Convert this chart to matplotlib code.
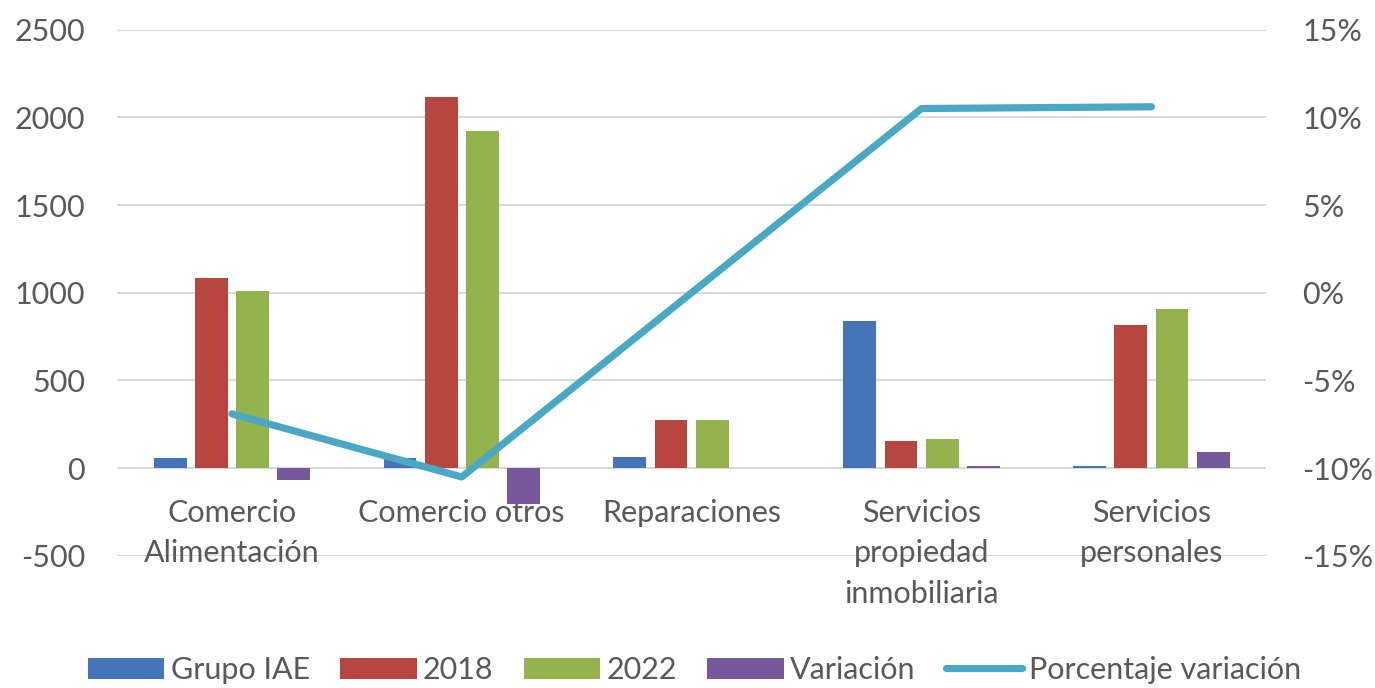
import numpy as np
import matplotlib.pyplot as plt
from matplotlib.patches import Patch
from matplotlib.lines import Line2D
from matplotlib.ticker import FuncFormatter

plt.rcParams['font.family'] = ['Lato', 'DejaVu Sans']
plt.rcParams['axes.unicode_minus'] = False

# ---- data ----
categories = ["Comercio\nAlimentación", "Comercio otros", "Reparaciones",
              "Servicios\npropiedad\ninmobiliaria", "Servicios\npersonales"]
grupo_iae = [59, 60, 63, 837, 15]
v2018 = [1085, 2117, 273, 154, 814]
v2022 = [1012, 1920, 273, 166, 906]
variacion = [-70, -204, 0, 12, 94]
pct_variacion = [-0.069, -0.105, 0.0, 0.105, 0.106]

series_names = ["Grupo IAE", "2018", "2022", "Variación"]
series_colors = ["#4674B8", "#B6463F", "#94B24D", "#76589B"]
line_color = "#4BA8C5"
text_color = "#595959"
grid_color = "#D9D9D9"
FS = 22

fig = plt.figure(figsize=(13.75, 6.88), dpi=100)
ax = fig.add_axes([0.085, 0.192, 0.836, 0.765])
ax2 = ax.twinx()

x = np.arange(len(categories))
width = 0.143
step = 0.179
all_series = [grupo_iae, v2018, v2022, variacion]
for i, (vals, col) in enumerate(zip(all_series, series_colors)):
    ax.bar(x + (i - 1.5) * step, vals, width, color=col, zorder=2)

ax.set_xlim(-0.5, len(categories) - 0.5)
ax.set_ylim(-500, 2500)
ax.set_yticks(np.arange(-500, 2501, 500))
ax.yaxis.grid(True, color=grid_color, linewidth=1.5, zorder=0)
ax.set_axisbelow(True)

# category labels sit next to the zero line, like Excel
ax.spines['bottom'].set_position(('data', 0))
for s in ax.spines.values():
    s.set_visible(False)
for s in ax2.spines.values():
    s.set_visible(False)
ax.set_xticks(x)
ax.set_xticklabels(categories, fontsize=FS, color=text_color, linespacing=1.55)
ax.tick_params(axis='x', length=0, pad=22)
ax.tick_params(axis='y', length=0, pad=23, labelsize=FS, labelcolor=text_color)
ax.xaxis.set_zorder(1.5)  # labels over the gridlines

ax2.plot(x, pct_variacion, color=line_color, linewidth=5.2,
         solid_capstyle='round', solid_joinstyle='round', zorder=3)
ax2.set_ylim(-0.15, 0.15)
ax2.set_yticks(np.arange(-0.15, 0.151, 0.05))
ax2.yaxis.set_major_formatter(FuncFormatter(lambda v, p: f"{v*100:.0f}%"))
ax2.tick_params(axis='y', length=0, pad=26, labelsize=FS, labelcolor=text_color)

handles = [Patch(facecolor=c, edgecolor='none') for c in series_colors]
handles.append(Line2D([0], [0], color=line_color, linewidth=5.2, solid_capstyle='round'))
labels = series_names + ["Porcentaje variación"]
fig.legend(handles, labels, loc='center', bbox_to_anchor=(0.505, 0.026), ncol=5,
           frameon=False, fontsize=FS, labelcolor=text_color,
           handlelength=2.5, handleheight=0.7, handletextpad=0.2, columnspacing=1.0)

fig.savefig("out.png", dpi=100)
